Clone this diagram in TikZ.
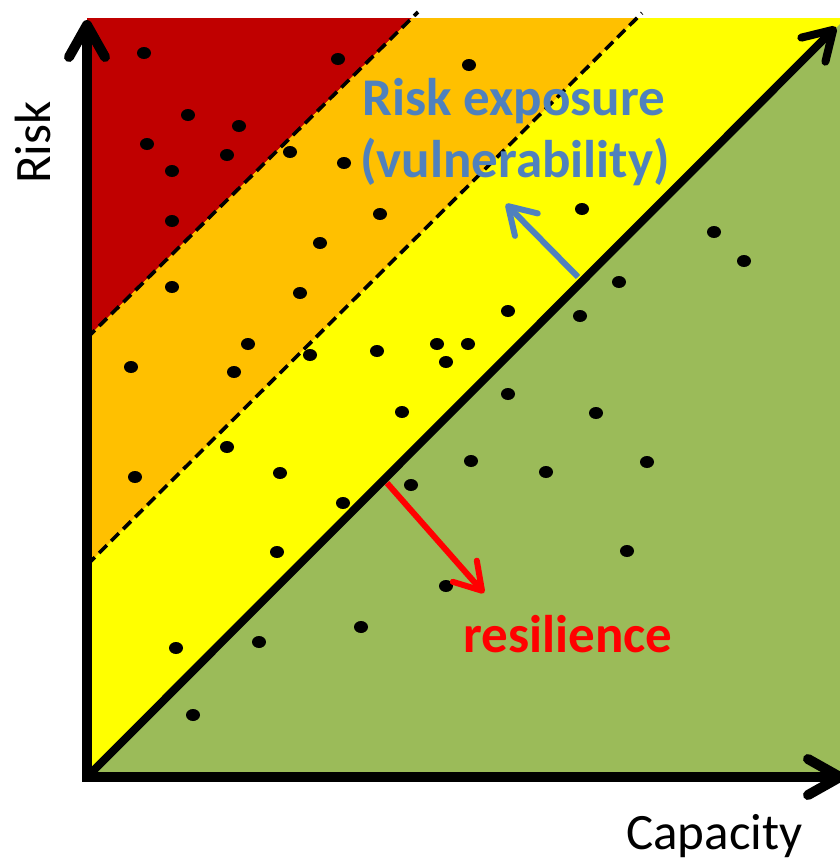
\documentclass[tikz,border=0pt]{standalone}
\usepackage{fontspec}
\setmainfont{Carlito}
\usetikzlibrary{arrows.meta}
\definecolor{cred}{RGB}{192,0,0}
\definecolor{corange}{RGB}{255,192,0}
\definecolor{cyellow}{RGB}{255,255,0}
\definecolor{cgreen}{RGB}{155,187,89}
\definecolor{cblue}{RGB}{79,129,189}
\definecolor{tred}{RGB}{255,0,0}
\begin{document}
\begin{tikzpicture}[x=1pt,y=-1pt,
  dashline/.style={line width=3.6pt, dash pattern=on 11pt off 6pt},
  axisline/.style={line width=10pt, line join=miter},
  barb/.style={-{Straight Barb[length=28pt,width=34pt,round]}},
  smallbarb/.style={-{Straight Barb[length=26pt,width=32pt,round]}},
  lbl/.style={anchor=base west, inner sep=0pt},
  biglbl/.style={lbl, font=\fontsize{53}{60}\selectfont\bfseries},
  axlbl/.style={lbl, font=\fontsize{51}{60}\selectfont}]
\useasboundingbox (0,0) rectangle (840,863);
\clip (0,0) rectangle (840,863);
% zones
\fill[cyellow] (87,18) rectangle (840,777);
\fill[cred] (87,18) -- (412,18) -- (87,338) -- cycle;
\fill[corange] (87,338) -- (412,18) -- (637,18) -- (87,565) -- cycle;
\fill[cgreen] (87,777) -- (840,777) -- (840,24) -- cycle;
% dashed borders
\draw[dashline] (87,338) -- (418,12);
\draw[dashline] (87,565) -- (642,13);
% dots
\foreach \px/\py in {144/53,338/59,469/65,188/115,239/126,147/144,227/155,290/152,344/163,
  172/171,172/221,380/214,582/209,320/243,714/232,744/261,172/287,300/293,619/282,
  508/311,580/316,248/344,131/367,234/372,310/355,377/351,437/344,468/344,446/362,
  508/394,402/412,596/413,227/447,135/477,280/473,471/461,546/472,647/462,411/485,
  343/503,277/552,627/551,446/586,176/648,259/642,361/627,193/715}
  \fill (\px,\py) ellipse [x radius=7pt, y radius=6pt];
% diagonal
\draw[line width=8pt, barb] (87,777) -- (836,27);
% axes
\draw[axisline, {Straight Barb[length=32pt,width=36pt,round]}-{Straight Barb[length=32pt,width=36pt,round]}] (87,20) -- (87,777) -- (845,777);
% small arrows
\draw[cblue, line width=6pt, smallbarb] (578,277) -- (506,204);
\draw[tred, line width=6pt, smallbarb] (387,483) -- (484,593);
% labels
\node[biglbl, text=cblue] (expo1) at (362,115) {Risk exposure};
\node[biglbl, text=cblue] (expo2) at (360,177) {(vulnerability)};
\node[biglbl, text=tred] (resil) at (463,652) {resilience};
\node[axlbl] (caplbl) at (626,849) {Capacity};
\node[axlbl, rotate=90] (risklbl) at (50,184) {Risk};
\end{tikzpicture}
\end{document}
